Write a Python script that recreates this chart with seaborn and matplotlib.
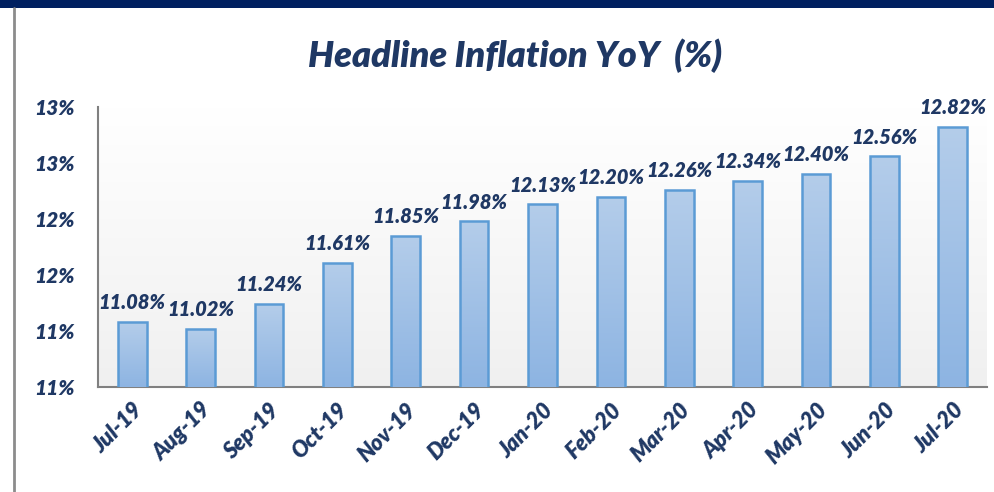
import numpy as np
import pandas as pd
import matplotlib
matplotlib.use('Agg')
import matplotlib.pyplot as plt
from matplotlib.patches import Rectangle
from matplotlib.colors import LinearSegmentedColormap
import seaborn as sns

months = ['Jul-19', 'Aug-19', 'Sep-19', 'Oct-19', 'Nov-19', 'Dec-19', 'Jan-20',
          'Feb-20', 'Mar-20', 'Apr-20', 'May-20', 'Jun-20', 'Jul-20']
inflation = [11.08, 11.02, 11.24, 11.61, 11.85, 11.98, 12.13,
             12.20, 12.26, 12.34, 12.40, 12.56, 12.82]
y_ticks = [10.5, 11.0, 11.5, 12.0, 12.5, 13.0]
# excel rounds the half steps up, so labels repeat
y_tick_labels = ['11%', '11%', '12%', '12%', '13%', '13%']

NAVY = '#1f3864'
WEIGHT = 'heavy'

sns.set_theme(style='white')
plt.rcParams['font.family'] = ['Lato', 'DejaVu Sans']

df = pd.DataFrame({'month': months, 'value': inflation})

fig = plt.figure(figsize=(9.95, 4.92), dpi=100)
ax = fig.add_axes([98 / 995, 105 / 492, 889 / 995, 280 / 492])

sns.barplot(data=df, x='month', y='value', color='#9dbde6', width=0.42,
            edgecolor='#5b9bd5', linewidth=1.8, ax=ax, zorder=3)

ax.set_ylim(y_ticks[0], y_ticks[-1])
ax.set_xlim(-0.5, len(months) - 0.5)

# plot area gradient
bg = LinearSegmentedColormap.from_list('bg', ['#f0f0f0', '#ffffff'])
ax.imshow(np.linspace(0, 1, 256).reshape(-1, 1), cmap=bg, aspect='auto',
          extent=[-0.5, len(months) - 0.5, y_ticks[0], y_ticks[-1]],
          origin='lower', zorder=0)

# bar gradient fill
bar_cmap = LinearSegmentedColormap.from_list('bar', ['#8db4e2', '#b4cdea'])
for patch in ax.patches:
    x0 = patch.get_x()
    w = patch.get_width()
    top = patch.get_height()
    im = ax.imshow(np.linspace(0, 1, 256).reshape(-1, 1), cmap=bar_cmap, aspect='auto',
                   extent=[x0, x0 + w, y_ticks[0], top], origin='lower', zorder=3.5)
    im.set_clip_path(patch)
    patch.set_facecolor('none')
    patch.set_zorder(4)
ax.set_xlim(-0.5, len(months) - 0.5)
ax.set_ylim(y_ticks[0], y_ticks[-1])

for i, v in enumerate(inflation):
    ax.annotate(f'{v:.2f}%', (i, v), xytext=(0, 7), textcoords='offset points',
                ha='center', va='bottom', fontsize=14.5, fontweight=WEIGHT,
                fontstyle='italic', color=NAVY, zorder=5)

ax.set_yticks(y_ticks)
ax.set_yticklabels(y_tick_labels)
ax.set_xticks(range(len(months)))
ax.set_xticklabels(months, rotation=45, ha='right', rotation_mode='anchor')
ax.set_xticks(np.arange(-0.5, len(months)), minor=True)
ax.tick_params(axis='x', which='major', length=0, pad=9)
ax.tick_params(axis='x', which='minor', length=14, direction='inout', width=1.5, color='#808080')
ax.tick_params(axis='y', length=6, direction='in', width=1.5, color='#808080', pad=17)
for lab in ax.get_yticklabels():
    lab.set_fontsize(15)
for lab in ax.get_xticklabels():
    lab.set_fontsize(16)
for lab in ax.get_xticklabels() + ax.get_yticklabels():
    lab.set_fontweight(WEIGHT)
    lab.set_fontstyle('italic')
    lab.set_color(NAVY)
ax.set_xlabel('')
ax.set_ylabel('')

for side in ['top', 'right']:
    ax.spines[side].set_visible(False)
for side in ['left', 'bottom']:
    ax.spines[side].set_color('#808080')
    ax.spines[side].set_linewidth(1.5)

fig.text(515 / 995, 1 - 56 / 492, 'Headline Inflation YoY  (%)', ha='center', va='center',
         fontsize=26, fontweight=WEIGHT, fontstyle='italic', color=NAVY)

# frame decorations from the slide
fig.patches.append(Rectangle((0, 1 - 8 / 492), 1, 8 / 492, transform=fig.transFigure,
                             facecolor='#002060', edgecolor='none'))
fig.lines.append(plt.Line2D([14 / 995, 14 / 995], [0, 1 - 8 / 492], transform=fig.transFigure,
                            color='#8c8c8c', linewidth=2))

fig.savefig('out.png', dpi=100)
